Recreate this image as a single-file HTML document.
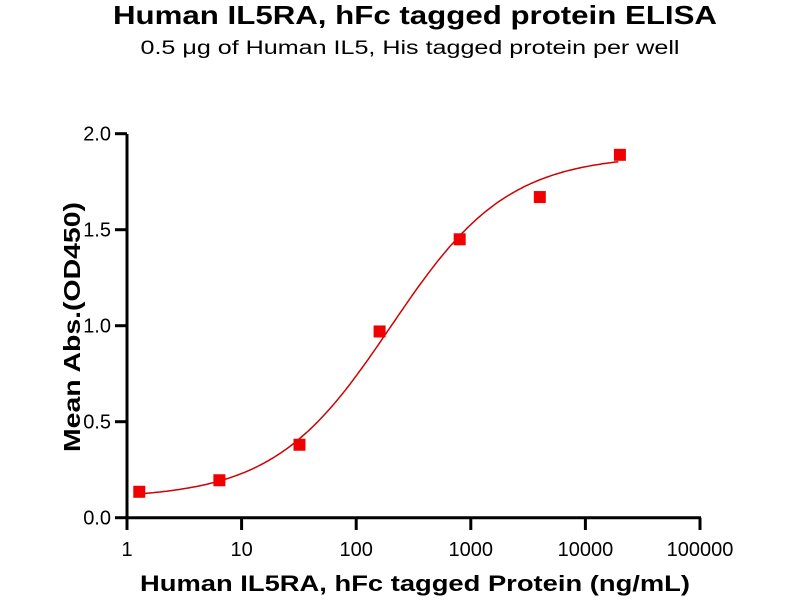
<!DOCTYPE html>
<html><head><meta charset="utf-8"><style>body{margin:0;background:#fff}svg{display:block}</style></head>
<body>
<svg id="s" width="800" height="600" xmlns="http://www.w3.org/2000/svg" font-family="Liberation Sans, Arial, sans-serif">
<text x="415" y="24" text-anchor="middle" font-size="26" font-weight="bold" textLength="604" lengthAdjust="spacingAndGlyphs">Human IL5RA, hFc tagged protein ELISA</text>
<text x="410" y="54" text-anchor="middle" font-size="19" textLength="539" lengthAdjust="spacingAndGlyphs">0.5 μg of Human IL5, His tagged protein per well</text>
<text transform="translate(80,327) rotate(-90)" text-anchor="middle" font-size="23" font-weight="bold" textLength="250" lengthAdjust="spacingAndGlyphs">Mean Abs.(OD450)</text>
<text x="415" y="591" text-anchor="middle" font-size="22" font-weight="bold" textLength="550" lengthAdjust="spacingAndGlyphs">Human IL5RA, hFc tagged Protein (ng/mL)</text>
<g id="g" stroke="#000" stroke-width="3" fill="none"></g>
<g id="t" font-size="20" fill="#000"></g>
</svg>
<script>
var X=function(v){return 127+114.6*Math.log10(v)},Y=function(v){return 517.7-192*v};
var g=document.getElementById('g'),t=document.getElementById('t'),h='';
h+='<path d="M127 134V519M125.5 517.7H701"/>';
for(var i=0;i<=4;i++){var y=Y(i*0.5);h+='<path d="M115 '+y+'H127"/>';}
for(var k=0;k<=5;k++){var x=127+114.6*k;h+='<path d="M'+x+' 517.7V530"/>';}
g.innerHTML=h;
var s='';
['0.0','0.5','1.0','1.5','2.0'].forEach(function(l,i){s+='<text x="111" y="'+(Y(i*0.5)+7)+'" text-anchor="end">'+l+'</text>';});
['1','10','100','1000','10000','100000'].forEach(function(l,k){s+='<text x="'+(127+114.6*k)+'" y="556" text-anchor="middle">'+l+'</text>';});
var d='';for(var lx=Math.log10(1.28);lx<=Math.log10(20000)+1e-9;lx+=0.02){var v=Math.pow(10,lx);var yv=0.1+1.79/(1+Math.pow(200/v,0.85));d+=(d?'L':'M')+X(v).toFixed(1)+' '+Y(yv).toFixed(1);}
s+='<path d="'+d+'" stroke="#d00000" stroke-width="1.5" fill="none"/>';
[[1.28,0.135],[6.4,0.195],[32,0.38],[160,0.97],[800,1.45],[4000,1.67],[20000,1.89]].forEach(function(p){s+='<rect x="'+(X(p[0])-6)+'" y="'+(Y(p[1])-6)+'" width="12" height="12" fill="#f00000"/>';});
t.innerHTML=s;
</script>
</body></html>
